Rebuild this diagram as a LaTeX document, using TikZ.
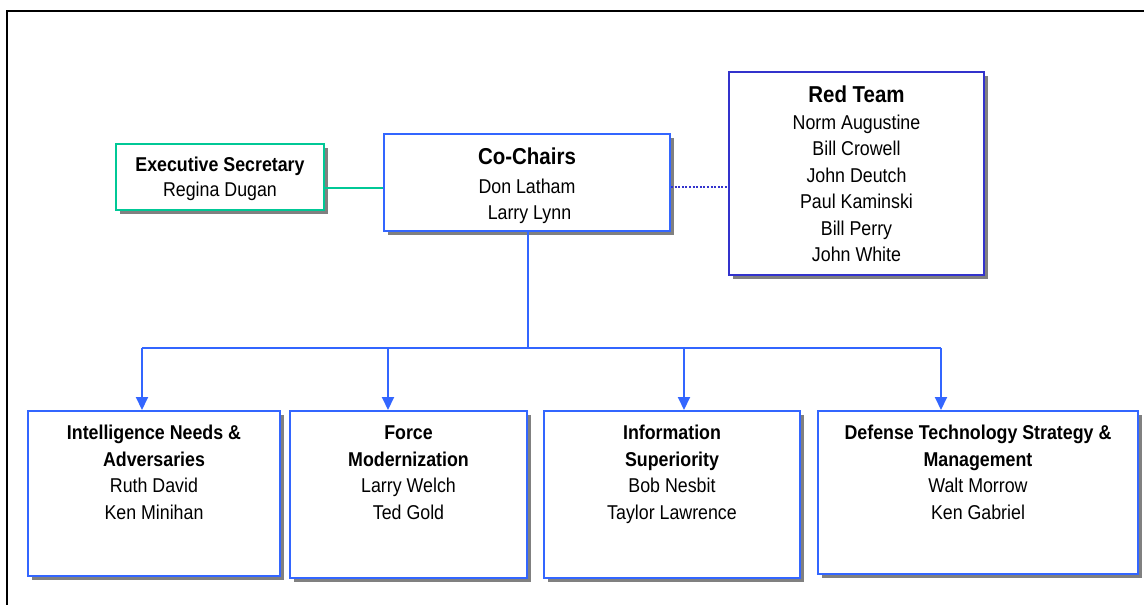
\documentclass[tikz,border=0pt]{standalone}
\usepackage{fontspec}
\setmainfont{Liberation Sans}[FakeStretch=0.89]
\usetikzlibrary{arrows.meta,calc,shadows}
\definecolor{boxblue}{RGB}{51,102,255}
\definecolor{darkblue}{RGB}{51,51,204}
\definecolor{secgreen}{RGB}{0,200,150}
\begin{document}
\begin{tikzpicture}[x=1pt,y=-1pt,
  box/.style={draw=boxblue, line width=2pt, fill=white, inner sep=0pt,
    general shadow={fill=black!50, shadow xshift=4pt, shadow yshift=-4pt}},
  txt/.style={align=center, inner sep=0pt, anchor=base, font=\fontsize{20}{26.5}\selectfont},
  conn/.style={draw=boxblue, line width=2pt},
  arr/.style={conn, -{Triangle[width=12pt,length=13pt]}},
  frame/.style={line width=2.5pt, black}
]
\useasboundingbox (0,0) rectangle (1144,605);
\draw[frame] (7,605) -- (7,11) -- (1144,11);

% boxes
\node[box, draw=secgreen, minimum width=208pt, minimum height=66pt] (exec) at (220,177) {};
\node[box, minimum width=286pt, minimum height=97pt] (chairs) at (527,182.5) {};
\node[box, draw=darkblue, minimum width=255pt, minimum height=203pt] (red) at (856.5,173.5) {};
\node[box, minimum width=252pt, minimum height=165pt] (b1) at (154,493.5) {};
\node[box, minimum width=237pt, minimum height=167pt] (b2) at (408.5,494.5) {};
\node[box, minimum width=256pt, minimum height=167pt] (b3) at (672,494.5) {};
\node[box, minimum width=320pt, minimum height=163pt] (b4) at (978,492.5) {};

% texts (anchor = baseline of the last line)
\node[txt] (texec) at ($(exec.north)+(0,53)$) {\textbf{Executive Secretary}\\[-1.5pt]Regina Dugan};
\node[txt] (tchairs) at ($(chairs.north)+(0,86)$) {{\bfseries\fontsize{23}{27}\selectfont Co-Chairs}\\[1.8pt]Don Latham\\[-0.5pt]\ Larry Lynn};
\node[txt] (tred) at ($(red.north)+(0,190.7)$) {{\bfseries\fontsize{23}{27}\selectfont Red Team}\\[0.5pt]Norm Augustine\\Bill Crowell\\John Deutch\\Paul Kaminski\\Bill Perry\\John White};
\node[txt] (t1) at ($(b1.north)+(0,109)$) {\textbf{Intelligence Needs \&}\\\textbf{Adversaries}\\Ruth David\\Ken Minihan};
\node[txt] (t2) at ($(b2.north)+(0,109)$) {\textbf{Force}\\\textbf{Modernization}\\Larry Welch\\Ted Gold};
\node[txt] (t3) at ($(b3.north)+(0,109)$) {\textbf{Information}\\\textbf{Superiority}\\Bob Nesbit\\Taylor Lawrence};
\node[txt] (t4) at ($(b4.north)+(0,109)$) {\textbf{Defense Technology Strategy \&}\\\textbf{Management}\\Walt Morrow\\Ken Gabriel};

% connectors
\coordinate (e1) at ([yshift=-11pt]exec.east);
\draw[draw=secgreen, line width=2pt] (e1) -- (e1 -| chairs.west);
\coordinate (r1) at ([yshift=-4.5pt]chairs.east);
\draw[draw=darkblue, line width=1.6pt, dash pattern=on 2pt off 1.6pt] (r1) -- (r1 -| red.west);

\coordinate (bus) at (528,348);
\coordinate (j1) at (142,348);
\coordinate (j2) at (388,348);
\coordinate (j3) at (684,348);
\coordinate (j4) at (941,348);
\draw[conn] (chairs.south -| bus) -- (bus);
\draw[conn] (j1) -- (j4);
\draw[arr] (j1) -- (j1 |- b1.north);
\draw[arr] (j2) -- (j2 |- b2.north);
\draw[arr] (j3) -- (j3 |- b3.north);
\draw[arr] (j4) -- (j4 |- b4.north);
\end{tikzpicture}
\end{document}
